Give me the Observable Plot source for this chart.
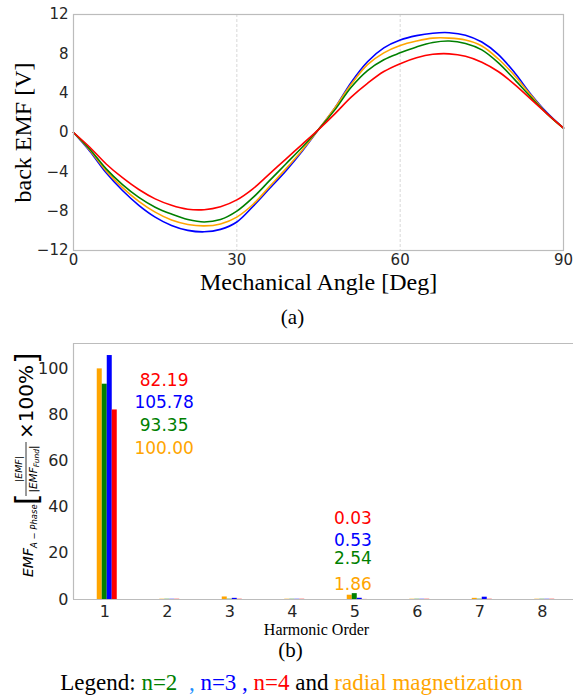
<!DOCTYPE html>
<html><head><meta charset="utf-8">
<script src="https://cdn.jsdelivr.net/npm/d3@7"></script>
<script src="https://cdn.jsdelivr.net/npm/@observablehq/plot@0.6"></script>
<style>
body{margin:0;background:#fff;}
#wrap{position:relative;width:573px;height:696px;overflow:hidden;background:#fff;}
#wrap svg{position:absolute;left:0;}
.cap{position:absolute;left:0;width:573px;text-align:center;font-family:"Liberation Serif",serif;color:#000;white-space:pre;}
</style></head><body><div id="wrap"></div>
<script>
// ---------- data: (a) back EMF waveforms ----------
const angles   = [0,3,6,9,12,15,18,21,24,27,30,33,36,39,42,45,48,51,54,57,60,63,66,69,72,75,78,81,84,87,90];
const emfN2    = [0,-1.7,-3.7,-5.3,-6.6,-7.6,-8.3,-8.85,-9.1,-8.85,-8.0,-6.6,-4.9,-3.2,-1.5,0.3,2.3,4.6,6.3,7.4,8.1,8.7,9.15,9.3,9.05,8.4,7.1,5.4,3.6,1.9,0.45];
const emfN3    = [0,-1.9,-4.1,-5.9,-7.4,-8.6,-9.45,-9.95,-10.1,-9.85,-9.1,-7.5,-5.7,-3.9,-1.9,0.3,2.5,5.1,7.2,8.6,9.4,9.85,10.1,10.15,9.9,9.2,7.95,6.1,3.9,2.0,0.45];
const emfN4    = [0,-1.5,-3.2,-4.6,-5.8,-6.75,-7.4,-7.8,-7.85,-7.55,-6.85,-5.7,-4.2,-2.7,-1.2,0.3,1.9,3.6,5.0,6.2,7.0,7.6,7.95,8.0,7.75,7.15,6.2,4.9,3.4,1.9,0.45];
const emfRadial= [0,-1.8,-3.9,-5.6,-7.0,-8.1,-8.9,-9.35,-9.5,-9.3,-8.6,-7.3,-5.5,-3.7,-1.8,0.3,2.5,4.9,6.9,8.1,8.85,9.3,9.6,9.6,9.4,8.8,7.5,5.8,3.8,1.9,0.45];
const angleTicks = [0,30,60,90];
const emfTicks = [-12,-8,-4,0,4,8,12];

// ---------- data: (b) harmonic spectrum ----------
const harmonics  = [1,2,3,4,5,6,7,8];
const harmRadial = [100.00,0.12,1.1,0.12,1.86,0.12,0.5,0.12];
const harmN2     = [93.35,0.1,0.12,0.1,2.54,0.1,0.12,0.1];
const harmN3     = [105.78,0.1,0.5,0.1,0.53,0.1,1.0,0.1];
const harmN4     = [82.19,0.1,0.1,0.1,0.03,0.1,0.1,0.1];
const pctTicks   = [0,20,40,60,80,100];

const seriesNames  = ["radial","n=2","n=3","n=4"];
const seriesColors = ["#ffa500","#008000","#0000ff","#ff0000"];

// annotation layout (data units)
const annotOrder = ["n=4","n=3","n=2","radial"];
const annotX   = [1.95, 4.97];
const annotY1  = [95, 85.2, 75.4, 65.6];
const annotY5  = [35, 25.5, 17.6, 6.6];

const wrap = document.getElementById("wrap");
const axisColor = "#262626";
const frameColor = "#bcbcbc";

// ---------- (a) ----------
const emfBySeries = {"radial":emfRadial,"n=2":emfN2,"n=3":emfN3,"n=4":emfN4};
const lineRows = [];
for (const s of ["n=3","radial","n=2","n=4"]) angles.forEach((a,i)=>lineRows.push({angle:a, v:emfBySeries[s][i], series:s}));

const plotA = Plot.plot({
  width:573, height:300,
  marginLeft:73, marginRight:10, marginTop:14, marginBottom:50,
  style:{fontFamily:"DejaVu Sans", fontSize:"15px", color:axisColor, background:"transparent"},
  x:{domain:[0,90]},
  y:{domain:[-12,12]},
  color:{domain:seriesNames, range:seriesColors},
  marks:[
    Plot.ruleX([30,60],{stroke:"#cfcfcf", strokeDasharray:"3,2", strokeWidth:0.8}),
    Plot.line(lineRows,{x:"angle", y:"v", stroke:"series", z:"series", curve:"catmull-rom", strokeWidth:1.6}),
    Plot.frame({stroke:frameColor, strokeWidth:1.2}),
    Plot.axisX({ticks:angleTicks, tickSize:0, tickPadding:4, label:null, fontSize:15}),
    Plot.axisY({ticks:emfTicks, tickSize:0, tickPadding:5, label:null, fontSize:15}),
    Plot.text(["Mechanical Angle [Deg]"],{frameAnchor:"bottom", lineAnchor:"middle", textAnchor:"middle", dy:32, fontSize:24, fontFamily:"Liberation Serif", fill:"#000"}),
    Plot.text(["back EMF [V]"],{frameAnchor:"left", lineAnchor:"middle", textAnchor:"middle", dx:-50, rotate:-90, fontSize:24, fontFamily:"Liberation Serif", fill:"#000"})
  ]
});
plotA.style.top = "0px";
wrap.appendChild(plotA);

// ---------- (b) ----------
const harmBySeries = {"radial":harmRadial,"n=2":harmN2,"n=3":harmN3,"n=4":harmN4};
const barW = 0.08;
const barRows = [];
seriesNames.forEach((s,i)=>harmonics.forEach((h,j)=>barRows.push({
  h, series:s, value:harmBySeries[s][j],
  x1:h+(i-1.5)*barW, x2:h+(i-0.5)*barW
})));
const annotRows = [];
annotOrder.forEach((s,k)=>{
  annotRows.push({x:annotX[0], y:annotY1[k], series:s, label:harmBySeries[s][0].toFixed(2)});
  annotRows.push({x:annotX[1], y:annotY5[k], series:s, label:harmBySeries[s][4].toFixed(2)});
});

const yMaxB = 111;
const plotB = Plot.plot({
  width:573, height:310,
  marginLeft:73, marginRight:0, marginTop:13, marginBottom:41,
  style:{fontFamily:"DejaVu Sans", fontSize:"16px", color:axisColor, background:"transparent"},
  x:{domain:[0.5,8.5]},
  y:{domain:[0,yMaxB]},
  color:{domain:seriesNames, range:seriesColors},
  marks:[
    Plot.rectY(barRows,{x1:"x1", x2:"x2", y:"value", fill:"series"}),
    Plot.ruleY([0, yMaxB],{stroke:frameColor, strokeWidth:1.2}),
    Plot.ruleX([0.5],{stroke:frameColor, strokeWidth:1.2}),
    Plot.axisX({ticks:harmonics, tickSize:0, tickPadding:6, label:null, fontSize:16}),
    Plot.axisY({ticks:pctTicks, tickSize:0, tickPadding:5, label:null, fontSize:16}),
    Plot.text(annotRows,{x:"x", y:"y", text:"label", fill:"series", fontSize:17, fontFamily:"DejaVu Sans"}),
    Plot.text(["Harmonic Order"],{frameAnchor:"bottom", lineAnchor:"middle", textAnchor:"middle", dx:-7, dy:30, fontSize:16, fontFamily:"Liberation Serif", fill:"#000"})
  ]
});
plotB.style.top = "330px";
wrap.appendChild(plotB);

// math-style y label for (b): rotated frame, reading axis runs bottom->top
(function(){
  const svg = d3.select(plotB);
  const g = svg.append("g").attr("transform","translate(33,136) rotate(-90) translate(-111,0)")
    .attr("font-family","DejaVu Sans").attr("fill","#000").attr("text-anchor","start");
  const put = (txt, s, y, size, italic) => g.append("text").attr("x",s).attr("y",y)
      .attr("font-size",size).attr("font-style",italic?"italic":"normal").attr("text-anchor","start").text(txt);
  put("EMF", 0, 0, 14, true);
  put("A − Phase", 29, 4, 8.5, true);
  put("[", 72, 4, 30, false);
  const fc = 108;
  put("|EMF|", fc, -11, 9.5, true).attr("text-anchor","middle");
  const den = put("", fc, 4, 10.5, true).attr("text-anchor","middle");
  den.append("tspan").text("|EMF");
  den.append("tspan").attr("font-size",7.5).attr("dy",2).text("Fund");
  den.append("tspan").attr("dy",-2).text("|");
  g.append("line").attr("x1",81).attr("x2",135).attr("y1",-7).attr("y2",-7).attr("stroke","#000").attr("stroke-width",0.8);
  put("×100%", 138, 0, 20, false);
  put("]", 213, 4, 30, false);
})();

// captions
function cap(top, html, size){
  const d = document.createElement("div");
  d.className = "cap"; d.style.top = top+"px"; d.style.fontSize = size+"px"; d.style.lineHeight = size+"px";
  d.innerHTML = html; wrap.appendChild(d); return d;
}
cap(307,"(a)",21).style.left = "6px";
cap(640,"(b)",21).style.left = "4px";
const leg = cap(671,
  'Legend: <span style="color:#008000">n=2</span>  <span style="color:#1e90ff">,</span> <span style="color:#0000ff">n=3</span> <span style="color:#0000ff">,</span> <span style="color:#ff0000">n=4</span> and <span style="color:#ffa500">radial magnetization</span>', 23);
leg.style.left = "5px";
</script></body></html>
